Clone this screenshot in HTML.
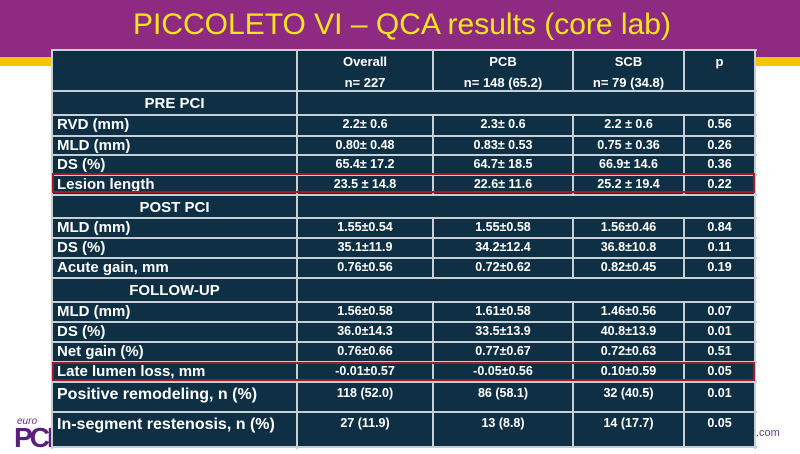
<!DOCTYPE html>
<html><head><meta charset="utf-8"><style>
html,body{margin:0;padding:0}
body{width:800px;height:450px;position:relative;background:#fff;overflow:hidden;font-family:"Liberation Sans",Arial,sans-serif}
.band{position:absolute;left:0;top:0;width:800px;height:57px;background:#8e2a82}
.y1{position:absolute;left:0;top:57px;width:60px;height:9px;background:#f5c400}
.y2{position:absolute;left:740px;top:57px;width:60px;height:9px;background:#f5c400}
.title{position:absolute;left:133px;top:8px;color:#f7e51b;font-size:30px;white-space:nowrap}
.tbl{position:absolute;left:52px;top:50px;width:703px;height:397px;background:#0f3044}
.h{position:absolute;height:2px;background:#c7cfd6}
.v{position:absolute;width:2px;background:#c7cfd6}
.t{position:absolute;color:#fff;font-weight:bold;white-space:nowrap;font-size:12.5px;text-align:center}
.red{position:absolute;left:52px;width:703px;border:2px solid #a3192a;box-sizing:border-box}
.euro{position:absolute;left:17px;top:416px;color:#6a2a8a;font-size:10px;font-style:italic}
.pcr{position:absolute;left:14px;top:422px;color:#5a1f7a;font-size:28px;font-weight:bold;letter-spacing:-3px}
.com{position:absolute;left:756px;top:427px;color:#6a3a8a;font-size:11px}
</style></head><body>
<div class="band"></div><div class="y1"></div><div class="y2"></div>
<div class="title">PICCOLETO VI – QCA results (core lab)</div>
<div class="euro">euro</div><div class="pcr">PCR</div><div class="com">.com</div>
<div class="tbl"></div>
<div id="g"></div>
<div class="red" style="top:173px;height:20px"></div>
<div class="red" style="top:362px;height:19px"></div>
<script>
var Y=[50,91,115,136,155,175,195,218,238,258,278,302,322,342,362,382,412,447];
var X=[52,297,433,573,684,755];
var sec=[1,6,10];
var rows=[
["",[["Overall","n= 227"],["PCB","n= 148 (65.2)"],["SCB","n= 79 (34.8)"],["p",""]]],
["PRE PCI"],
["RVD (mm)","2.2± 0.6","2.3± 0.6","2.2 ± 0.6","0.56"],
["MLD (mm)","0.80± 0.48","0.83± 0.53","0.75 ± 0.36","0.26"],
["DS (%)","65.4± 17.2","64.7± 18.5","66.9± 14.6","0.36"],
["Lesion length","23.5 ± 14.8","22.6± 11.6","25.2 ± 19.4","0.22"],
["POST PCI"],
["MLD (mm)","1.55±0.54","1.55±0.58","1.56±0.46","0.84"],
["DS (%)","35.1±11.9","34.2±12.4","36.8±10.8","0.11"],
["Acute gain, mm","0.76±0.56","0.72±0.62","0.82±0.45","0.19"],
["FOLLOW-UP"],
["MLD (mm)","1.56±0.58","1.61±0.58","1.46±0.56","0.07"],
["DS (%)","36.0±14.3","33.5±13.9","40.8±13.9","0.01"],
["Net gain (%)","0.76±0.66","0.77±0.67","0.72±0.63","0.51"],
["Late lumen loss, mm","-0.01±0.57","-0.05±0.56","0.10±0.59","0.05"],
["Positive remodeling, n (%)","118 (52.0)","86 (58.1)","32 (40.5)","0.01"],
["In-segment restenosis, n (%)","27 (11.9)","13 (8.8)","14 (17.7)","0.05"]];
var h="";
for(var i=0;i<Y.length;i++){h+='<div class="h" style="left:52px;width:705px;top:'+(Y[i]-1)+'px"></div>';}
h+='<div class="v" style="left:51px;top:49px;height:400px"></div><div class="v" style="left:296px;top:49px;height:400px"></div><div class="v" style="left:754px;top:49px;height:400px"></div>';
for(var r=0;r<rows.length;r++){
 var y0=Y[r],y1=Y[r+1],hh=y1-y0;
 if(sec.indexOf(r)<0){for(var c=2;c<5;c++)h+='<div class="v" style="left:'+(X[c]-1)+'px;top:'+y0+'px;height:'+hh+'px"></div>';}
 var row=rows[r];
 if(r==0){for(var c=0;c<4;c++){h+='<div class="t" style="font-size:13px;left:'+X[c+1]+'px;width:'+(X[c+2]-X[c+1])+'px;top:54px">'+row[1][c][0]+'</div><div class="t" style="font-size:13px;left:'+X[c+1]+'px;width:'+(X[c+2]-X[c+1])+'px;top:75px">'+row[1][c][1]+'</div>';}continue;}
 if(row.length==1){h+='<div class="t" style="left:52px;width:245px;font-size:15px;top:'+(y0+4)+'px">'+row[0]+'</div>';continue;}
 var big=r>=15, ty=big?y0+4:y0+2, ly=big?y0+4:y0+1;
 h+='<div class="t" style="left:57px;text-align:left;font-size:'+(big?16:15)+'px;top:'+ly+'px">'+row[0]+'</div>';
 for(var c=1;c<5;c++)h+='<div class="t" style="left:'+X[c]+'px;width:'+(X[c+1]-X[c])+'px;top:'+ty+'px">'+row[c]+'</div>';
}
document.getElementById("g").innerHTML=h;
</script>
</body></html>
